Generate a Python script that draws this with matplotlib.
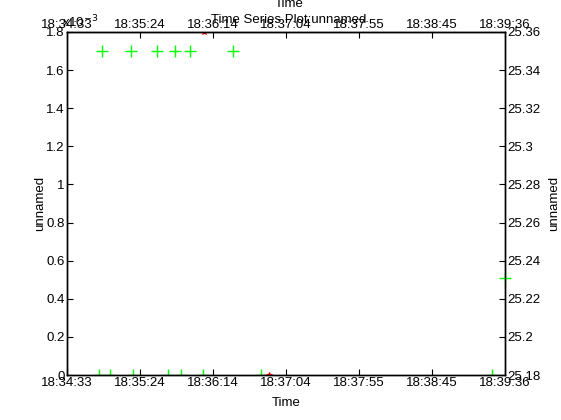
import numpy as np
import matplotlib
matplotlib.use('Agg')
import matplotlib.pyplot as plt
from matplotlib.ticker import FuncFormatter, FixedLocator

plt.rcParams['font.family'] = ['Liberation Sans', 'DejaVu Sans']
plt.rcParams['font.size'] = 9.5

# Time of day strings, start / end of the plot
t_start = '18:34:33'
t_end = '18:39:36'
time_labels = ['18:34:33', '18:35:24', '18:36:14', '18:37:04',
               '18:37:55', '18:38:45', '18:39:36']

# left-axis series (unnamed), values in raw units
left_times = ['18:34:57', '18:35:17', '18:35:35', '18:35:48', '18:35:58', '18:36:28',
              '18:34:55', '18:35:03', '18:35:19', '18:35:43', '18:35:52', '18:36:07',
              '18:36:47', '18:39:27']
left_vals = [1.7e-3, 1.7e-3, 1.7e-3, 1.7e-3, 1.7e-3, 1.7e-3,
             0, 0, 0, 0, 0, 0, 0, 0]

# right-axis series (unnamed)
right_times = ['18:39:36']
right_vals = [25.231]

# red flagged points (left axis)
red_times = ['18:36:08', '18:36:53']
red_vals = [1.8e-3, 0]


def secs(s):
    h, m, sec = [int(v) for v in s.split(':')]
    return h * 3600 + m * 60 + sec


x0, x1 = secs(t_start), secs(t_end)
xticks = np.linspace(x0, x1, len(time_labels))

fig = plt.figure(figsize=(5.61, 4.20), dpi=100)
ax = fig.add_axes([0.1194, 0.107, 0.7806, 0.817])
ax2 = ax.twinx()

green = '#00ff00'
ax.plot([secs(t) for t in left_times], left_vals, '+', color=green, ms=9, mew=1)
ax.plot([secs(t) for t in red_times], red_vals, '*', color='red', ms=4, mew=0.6)
ax2.plot([secs(t) for t in right_times], right_vals, '+', color=green, ms=9, mew=1,
         clip_on=False)

ax.set_xlim(x0, x1)
ax.set_ylim(0, 1.8e-3)
ax2.set_ylim(25.18, 25.36)
ax.set_xticks(xticks)
ax.set_xticklabels(time_labels)
ax.yaxis.set_major_locator(FixedLocator(np.arange(0, 1.81e-3, 0.2e-3)))
ax.yaxis.set_major_formatter(FuncFormatter(lambda v, p: ('%.1f' % (v * 1e3)).rstrip('0').rstrip('.')))
ax2.yaxis.set_major_locator(FixedLocator(np.arange(25.18, 25.361, 0.02)))
ax2.yaxis.set_major_formatter(FuncFormatter(lambda v, p: ('%.2f' % v).rstrip('0').rstrip('.')))

top = ax.secondary_xaxis('top')
top.set_xticks(xticks)
top.set_xticklabels(time_labels)
top.tick_params(direction='in', length=4, pad=0.5)

for a in (ax, ax2):
    a.tick_params(direction='in', length=4, pad=1.5)
    for sp in a.spines.values():
        sp.set_linewidth(1)

ax.set_xlabel('Time', labelpad=5.5)
ax.set_ylabel('unnamed', labelpad=0.5)
ax2.set_ylabel('unnamed', labelpad=6)

# MATLAB-style title and top label, which overlap the top tick labels
fig.text(0.515, (420 - 23) / 420, 'Time Series Plot:unnamed', ha='center', va='baseline')
fig.text(0.515, (420 - 7) / 420, 'Time', ha='center', va='baseline')
fig.text(62 / 561, (420 - 27) / 420, r'x10$^{-3}$', ha='left', va='baseline')

fig.savefig('out.png', dpi=100)
